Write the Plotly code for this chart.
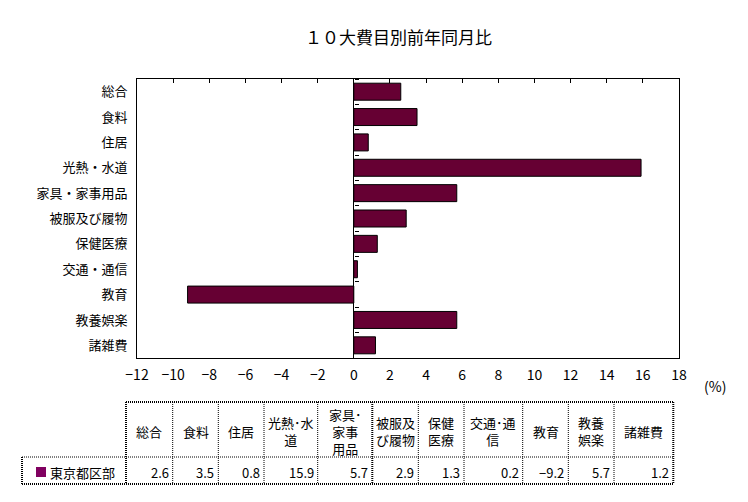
import plotly.graph_objects as go

# データ（東京都区部、前年同月比 %）
categories = ["総合", "食料", "住居", "光熱・水道", "家具・家事用品", "被服及び履物",
              "保健医療", "交通・通信", "教育", "教養娯楽", "諸雑費"]
values = [2.6, 3.5, 0.8, 15.9, 5.7, 2.9, 1.3, 0.2, -9.2, 5.7, 1.2]
table_headers = ["総合", "食料", "住居", "光熱･水<br>道", "家具･<br>家事<br>用品", "被服及<br>び履物",
                 "保健<br>医療", "交通･通<br>信", "教育", "教養<br>娯楽", "諸雑費"]
series_name = "東京都区部"
x_ticks = list(range(-12, 19, 2))

W, H = 748, 502
OFF = 8  # ページ本体の余白分
FONT = "Noto Sans CJK JP"
BAR = "#660033"


def px(x):
    return (x - OFF) / W


def py(y):
    return 1 - (y - OFF) / H


x_dom = [px(137), px(679)]
y_dom = [py(358), py(79)]
x_rng = [x_ticks[0], x_ticks[-1]]
zero_pos = x_dom[0] + (0 - x_rng[0]) / (x_rng[1] - x_rng[0]) * (x_dom[1] - x_dom[0])

fig = go.Figure()
fig.add_trace(go.Bar(
    y=categories, x=values, orientation="h",
    marker=dict(color=BAR, line=dict(color="black", width=1)),
    hoverinfo="skip", showlegend=False,
))
# 補助トレース（上側目盛・0軸の目盛用）
fig.add_trace(go.Scatter(
    x=[0] * len(categories), y=categories, xaxis="x2", yaxis="y2",
    mode="markers", marker=dict(opacity=0), hoverinfo="skip", showlegend=False,
))

fig.update_layout(
    width=W, height=H,
    margin=dict(l=0, r=0, t=0, b=0, autoexpand=False),
    paper_bgcolor="white", plot_bgcolor="white",
    font=dict(family=FONT, size=13, color="black"),
    bargap=0.33,
    xaxis=dict(domain=x_dom, range=x_rng, tickvals=x_ticks, ticks="", automargin=False,
               showgrid=False, zeroline=True, zerolinecolor="black", zerolinewidth=1,
               showline=True, linecolor="black", linewidth=1, mirror=True,
               tickfont=dict(size=14), ticklabelstandoff=4, fixedrange=True),
    xaxis2=dict(overlaying="x", side="top", anchor="y", range=x_rng, tickvals=x_ticks,
                ticks="inside", ticklen=4, tickcolor="black", showticklabels=False,
                automargin=False, showgrid=False, zeroline=False, showline=False),
    yaxis=dict(domain=y_dom, type="category", categoryarray=categories, automargin=False,
               range=[len(categories) - 0.5, -0.5], ticks="", showgrid=False,
               showline=True, linecolor="black", linewidth=1, mirror=True,
               ticklabelstandoff=6, fixedrange=True),
    yaxis2=dict(overlaying="y", anchor="free", position=zero_pos, side="right",
                type="category", categoryarray=categories, automargin=False,
                range=[len(categories) - 0.5, -0.5], tickson="boundaries",
                ticks="outside", ticklen=4, tickcolor="black", showticklabels=False,
                showgrid=False, showline=False, zeroline=False),
)


def note(text, x, y, xanchor="center", size=13):
    return dict(text=text, x=px(x), y=py(y), xref="paper", yref="paper",
                xanchor=xanchor, yanchor="middle", showarrow=False,
                font=dict(size=size), align="center", borderpad=0)


anns = [
    note("１０大費目別前年同月比", 398, 37, size=17),
    note("(%)", 715, 386, size=14),
]
shapes = []

# 表
col_edges = [126, 172.7, 218.3, 264, 317.7, 372.3, 418.3, 464, 522.7, 568.3, 614, 673.3]
t_top, t_mid, t_bot, t_left = 402, 457, 484, 22


def hline(x0, x1, y, width=1):
    shapes.append(dict(type="line", xref="paper", yref="paper", x0=px(x0), x1=px(x1),
                       y0=py(y), y1=py(y), line=dict(color="black", width=width, dash="1px,1px")))


def vline(x, y0, y1, width=1):
    shapes.append(dict(type="line", xref="paper", yref="paper", x0=px(x), x1=px(x),
                       y0=py(y0), y1=py(y1), line=dict(color="black", width=width, dash="1px,1px")))


hline(col_edges[0], col_edges[-1], t_top, 2)
hline(t_left, col_edges[-1], t_mid)
hline(t_left, col_edges[-1], t_bot, 2)
vline(t_left, t_mid, t_bot, 2)
for i, x in enumerate(col_edges):
    w = 2 if i in (0, 5, len(col_edges) - 1) else 1
    vline(x, t_top, t_bot, w)

for i, (h, v) in enumerate(zip(table_headers, values)):
    cx = (col_edges[i] + col_edges[i + 1]) / 2
    anns.append(note(h, cx, 431))
    anns.append(note(f"{v:.1f}".replace("-", "−"), col_edges[i + 1] - 3, 472, xanchor="right"))

# 凡例
shapes.append(dict(type="rect", xref="paper", yref="paper", x0=px(36), x1=px(46),
                   y0=py(467), y1=py(477), fillcolor="#800060", line=dict(width=0)))
anns.append(note(series_name, 49, 472, xanchor="left"))

fig.update_layout(annotations=anns, shapes=shapes)

fig.write_html("out.html")
